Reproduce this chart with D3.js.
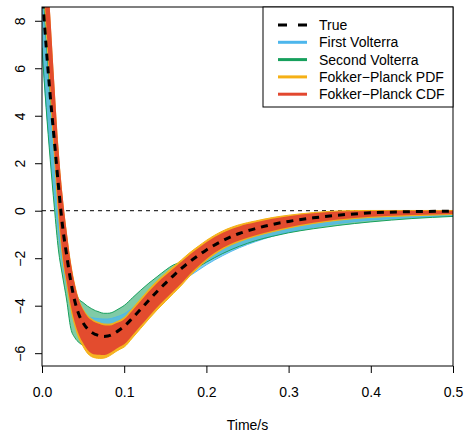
<!DOCTYPE html>
<html><head><meta charset="utf-8">
<script src="https://cdn.jsdelivr.net/npm/d3@7"></script>
<style>body{margin:0;background:#fff} text{font-family:"Liberation Sans",Arial,Helvetica,sans-serif}</style>
</head><body><svg id="c" width="469" height="438"></svg>
<script>
// ---- data ----
const time = [0,0.005,0.01,0.015,0.02,0.025,0.03,0.035,0.04,0.045,0.05,0.055,0.06,0.065,0.07,0.075,0.08,0.085,0.09,0.095,0.1,0.11,0.12,0.13,0.14,0.15,0.16,0.17,0.18,0.19,0.2,0.22,0.24,0.26,0.28,0.3,0.33,0.36,0.4,0.45,0.5];
const trueVals = [9.36,6.95,4.85,2.95,1.05,-0.65,-1.87,-2.98,-3.82,-4.38,-4.72,-4.96,-5.12,-5.21,-5.27,-5.30,-5.28,-5.22,-5.12,-5.00,-4.87,-4.52,-4.15,-3.77,-3.40,-3.06,-2.73,-2.42,-2.14,-1.89,-1.65,-1.26,-0.96,-0.75,-0.58,-0.45,-0.30,-0.19,-0.09,-0.04,-0.02];
// First Volterra band (lower / upper)
const firstLo = [6.86,4.45,2.45,0.75,-0.85,-2.25,-3.17,-3.98,-4.62,-4.98,-5.12,-5.16,-5.12,-5.06,-5.02,-5.00,-4.98,-4.92,-4.84,-4.75,-4.67,-4.47,-4.25,-3.97,-3.70,-3.46,-3.23,-2.97,-2.74,-2.51,-2.28,-1.89,-1.56,-1.30,-1.08,-0.90,-0.70,-0.54,-0.39,-0.29,-0.22];
const firstHi = [9.16,6.75,4.55,2.55,0.55,-1.15,-2.27,-3.18,-3.82,-4.10,-4.35,-4.45,-4.50,-4.53,-4.55,-4.56,-4.56,-4.53,-4.48,-4.42,-4.34,-4.10,-3.83,-3.53,-3.24,-2.97,-2.72,-2.45,-2.19,-1.99,-1.75,-1.38,-1.08,-0.87,-0.70,-0.57,-0.40,-0.29,-0.17,-0.10,-0.07];
// Second Volterra band
const secondLo = [6.86,4.35,2.15,0.15,-1.65,-2.75,-3.76,-4.95,-5.35,-5.55,-5.65,-5.63,-5.55,-5.45,-5.38,-5.35,-5.30,-5.24,-5.14,-5.03,-4.92,-4.62,-4.35,-4.07,-3.70,-3.42,-3.11,-2.85,-2.60,-2.37,-2.17,-1.80,-1.50,-1.26,-1.08,-0.93,-0.76,-0.62,-0.47,-0.33,-0.24];
const secondHi = [10.06,7.25,4.85,2.75,0.75,-0.95,-1.97,-2.78,-3.37,-3.73,-3.87,-4.01,-4.12,-4.21,-4.27,-4.32,-4.32,-4.29,-4.20,-4.10,-3.99,-3.67,-3.35,-3.05,-2.78,-2.51,-2.28,-2.17,-2.07,-1.92,-1.73,-1.36,-1.06,-0.85,-0.68,-0.55,-0.40,-0.28,-0.17,-0.10,-0.07];
// Fokker-Planck PDF band
const pdfLo = [10.4,7.8,5.1,2.4,-0.1,-1.95,-3.07,-4.10,-4.85,-5.38,-5.72,-5.99,-6.14,-6.20,-6.22,-6.21,-6.15,-6.05,-5.93,-5.83,-5.74,-5.36,-4.96,-4.56,-4.18,-3.83,-3.48,-3.13,-2.74,-2.41,-2.09,-1.61,-1.30,-1.07,-0.89,-0.73,-0.54,-0.40,-0.28,-0.21,-0.16];
const pdfHi = [12.9,10.6,7.9,5.0,2.4,0.45,-1.00,-2.25,-3.15,-3.78,-4.15,-4.40,-4.55,-4.66,-4.72,-4.77,-4.78,-4.76,-4.69,-4.61,-4.50,-4.12,-3.72,-3.32,-2.96,-2.65,-2.35,-2.06,-1.76,-1.50,-1.25,-0.85,-0.59,-0.43,-0.29,-0.19,-0.08,-0.01,0.01,0.01,0.01];
// Fokker-Planck CDF band
const cdfLo = [10.56,7.95,5.25,2.55,0.05,-1.85,-2.97,-3.98,-4.72,-5.23,-5.57,-5.84,-6.00,-6.06,-6.07,-6.08,-6.03,-5.94,-5.82,-5.72,-5.62,-5.24,-4.85,-4.45,-4.07,-3.72,-3.38,-3.04,-2.66,-2.34,-2.03,-1.56,-1.25,-1.03,-0.85,-0.70,-0.51,-0.37,-0.25,-0.18,-0.14];
const cdfHi = [13.36,10.95,8.25,5.35,2.65,0.65,-0.87,-2.18,-3.12,-3.78,-4.17,-4.44,-4.60,-4.71,-4.77,-4.82,-4.83,-4.82,-4.74,-4.68,-4.57,-4.20,-3.80,-3.40,-3.04,-2.73,-2.43,-2.14,-1.84,-1.58,-1.33,-0.93,-0.66,-0.49,-0.34,-0.23,-0.11,-0.03,-0.01,0.00,0.00];

const seriesNames = ["True","First Volterra","Second Volterra","Fokker\u2212Planck PDF","Fokker\u2212Planck CDF"];
const seriesColors = ["#000000","#4DB6EC","#17A05D","#F5B015","#E2472F"];
const xTicks = [0,0.1,0.2,0.3,0.4,0.5];
const yTicks = [-6,-4,-2,0,2,4,6,8];
const xLabel = "Time/s";

// ---- layout ----
const svg = d3.select("#c");
const L = 42, R = 453, T = 7, B = 366;
const x = d3.scaleLinear().domain([0,0.5]).range([L,R]);
const y = d3.scaleLinear().domain([-6.54,8.58]).range([B,T]);
const fmtMinus = s => s.replace(/-/g,"\u2212");

svg.append("defs").append("clipPath").attr("id","clip")
  .append("rect").attr("x",L).attr("y",T).attr("width",R-L).attr("height",B-T);

const plot = svg.append("g").attr("clip-path","url(#clip)");

// zero reference line
plot.append("line").attr("x1",x(0)).attr("x2",x(0.5)).attr("y1",y(0)).attr("y2",y(0))
  .attr("stroke","#000").attr("stroke-width",1).attr("stroke-dasharray","4,4");

const area = d3.area().x(d=>x(d.t)).y0(d=>y(d.lo)).y1(d=>y(d.hi)).curve(d3.curveMonotoneX);
const line = d3.line().x(d=>x(d.t)).y(d=>y(d.v)).curve(d3.curveMonotoneX);
const bandPts = (lo,hi) => time.map((t,i)=>({t, lo:lo[i], hi:hi[i]}));
const linePts = arr => time.map((t,i)=>({t, v:arr[i]}));
function drawArea(lo,hi,color,op){
  plot.append("path").datum(bandPts(lo,hi)).attr("d",area)
    .attr("fill",color).attr("fill-opacity",op).attr("stroke","none");
}
function drawEdges(lo,hi,color,w){
  [lo,hi].forEach(arr=>plot.append("path").datum(linePts(arr)).attr("d",line)
    .attr("fill","none").attr("stroke",color).attr("stroke-width",w));
}
// Second Volterra (wide, sparse lines) under First Volterra
drawArea(secondLo,secondHi,seriesColors[2],0.55);
drawArea(firstLo,firstHi,seriesColors[1],0.7);
drawEdges(firstLo,firstHi,seriesColors[1],0.9);
drawEdges(secondLo,secondHi,seriesColors[2],1);
// Fokker-Planck bands
drawArea(pdfLo,pdfHi,seriesColors[3],0.95);
drawEdges(pdfLo,pdfHi,seriesColors[3],1);
drawArea(cdfLo,cdfHi,seriesColors[4],0.95);

// true curve
plot.append("path").datum(linePts(trueVals)).attr("d",line)
  .attr("fill","none").attr("stroke","#000").attr("stroke-width",3).attr("stroke-dasharray","7,6");

// ---- axes ----
const gx = svg.append("g").attr("transform",`translate(0,${B})`)
  .call(d3.axisBottom(x).tickValues(xTicks).tickSize(7).tickPadding(0).tickFormat(d3.format(".1f")));
gx.select(".domain").remove();
gx.selectAll(".tick line").attr("stroke","#000");
gx.selectAll(".tick text").attr("y",31).attr("dy",0).attr("font-size",14).attr("fill","#000")
  .style("font-family","'Liberation Sans',Arial,sans-serif");

const gy = svg.append("g").attr("transform",`translate(${L},0)`)
  .call(d3.axisLeft(y).tickValues(yTicks).tickSize(7).tickFormat(d=>fmtMinus(String(d))));
gy.select(".domain").remove();
gy.selectAll(".tick line").attr("stroke","#000");
gy.selectAll(".tick text").attr("x",0).attr("dy",0).attr("text-anchor","middle")
  .attr("transform","translate(-17,0) rotate(-90)").attr("font-size",14).attr("fill","#000")
  .style("font-family","'Liberation Sans',Arial,sans-serif");

// box
svg.append("rect").attr("x",L).attr("y",T).attr("width",R-L).attr("height",B-T)
  .attr("fill","none").attr("stroke","#000").attr("stroke-width",1);

svg.append("text").attr("x",(L+R)/2).attr("y",430).attr("text-anchor","middle")
  .attr("font-size",14).attr("fill","#000").text(xLabel);

// ---- legend ----
const lg = svg.append("g");
lg.append("rect").attr("x",263).attr("y",T).attr("width",R-263).attr("height",100)
  .attr("fill","#fff").attr("stroke","#000").attr("stroke-width",1);
seriesNames.forEach((n,i)=>{
  const cy = 25 + i*17.3;
  lg.append("line").attr("x1",278).attr("x2",307).attr("y1",cy).attr("y2",cy)
    .attr("stroke",seriesColors[i]).attr("stroke-width",3)
    .attr("stroke-dasharray", i===0 ? "9,11" : null);
  lg.append("text").attr("x",319).attr("y",cy+5).attr("font-size",14).attr("fill","#000").text(n);
});
</script>
</body></html>
